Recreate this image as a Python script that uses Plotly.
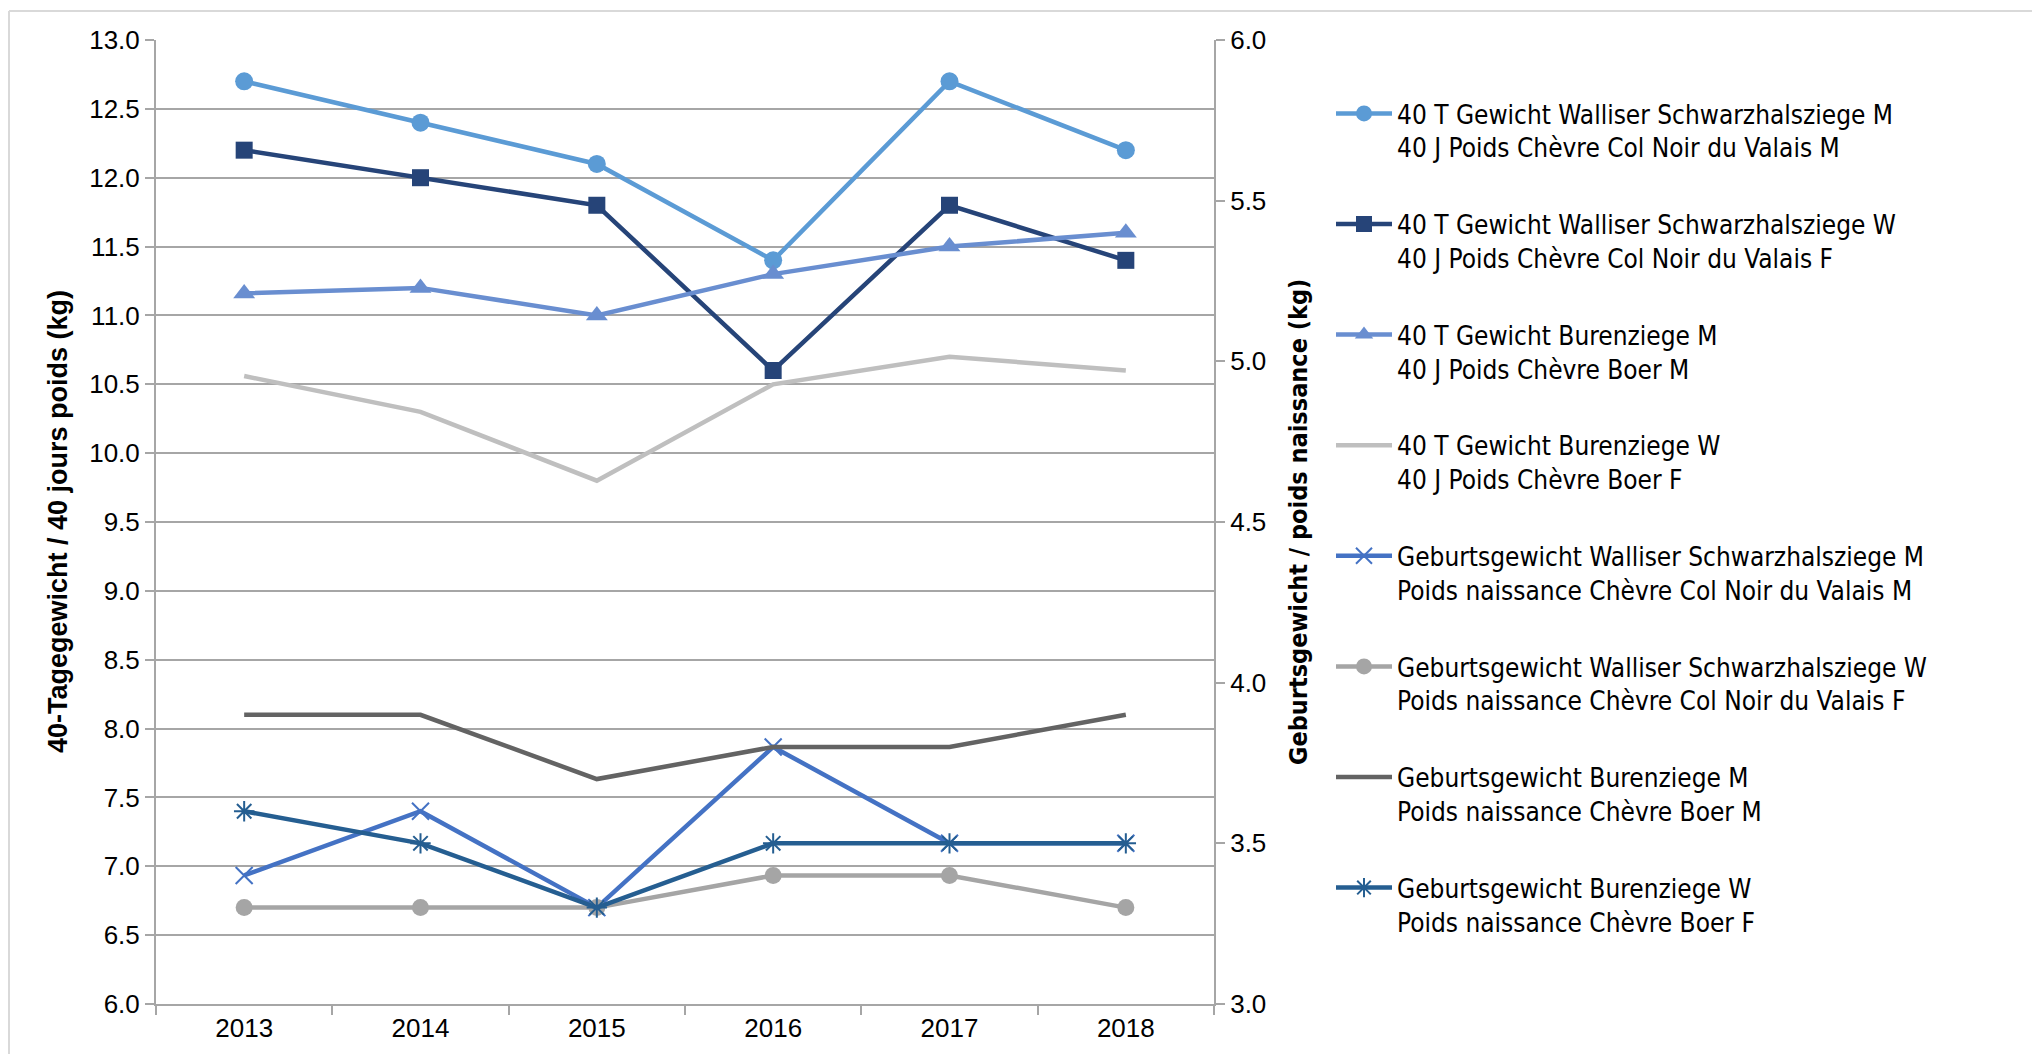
import plotly.graph_objects as go

years = ["2013", "2014", "2015", "2016", "2017", "2018"]

# 40-day weights (left axis, kg)
t40_walliser_m = [12.7, 12.4, 12.1, 11.4, 12.7, 12.2]
t40_walliser_w = [12.2, 12.0, 11.8, 10.6, 11.8, 11.4]
t40_buren_m = [11.16, 11.2, 11.0, 11.3, 11.5, 11.6]
t40_buren_w = [10.56, 10.3, 9.8, 10.5, 10.7, 10.6]

# birth weights (right axis, kg)
geb_walliser_m = [3.4, 3.6, 3.3, 3.8, 3.5, 3.5]
geb_walliser_w = [3.3, 3.3, 3.3, 3.4, 3.4, 3.3]
geb_buren_m = [3.9, 3.9, 3.7, 3.8, 3.8, 3.9]
geb_buren_w = [3.6, 3.5, 3.3, 3.5, 3.5, 3.5]

names = [
    "40 T Gewicht Walliser Schwarzhalsziege M<br>40 J Poids Chèvre Col Noir du Valais M",
    "40 T Gewicht Walliser Schwarzhalsziege W<br>40 J Poids Chèvre Col Noir du Valais F",
    "40 T Gewicht Burenziege M<br>40 J Poids Chèvre Boer M",
    "40 T Gewicht Burenziege W<br>40 J Poids Chèvre Boer F",
    "Geburtsgewicht Walliser Schwarzhalsziege M<br>Poids naissance Chèvre Col Noir du Valais M",
    "Geburtsgewicht Walliser Schwarzhalsziege W<br>Poids naissance Chèvre Col Noir du Valais F",
    "Geburtsgewicht Burenziege M<br>Poids naissance Chèvre Boer M",
    "Geburtsgewicht Burenziege W<br>Poids naissance Chèvre Boer F",
]

series = [t40_walliser_m, t40_walliser_w, t40_buren_m, t40_buren_w,
          geb_walliser_m, geb_walliser_w, geb_buren_m, geb_buren_w]
axes = ["y", "y", "y", "y", "y2", "y2", "y2", "y2"]
colors = ["#5B9BD5", "#264478", "#698ED0", "#BFBFBF",
          "#4472C4", "#A5A5A5", "#636363", "#255E91"]
symbols = ["circle", "square", "triangle-up", None,
           "x-thin-open", "circle", None, "asterisk-open"]
sizes = [18, 17, 19, 0, 17, 17, 0, 17]

# page offset (body margin of the html page)
OFF = 8
W, H = 2040 - 2 * OFF, 1062 - 2 * OFF
# plot area in page pixels
PX0, PX1, PY0, PY1 = 156, 1214, 40, 1004
L, T = PX0 - OFF, PY0 - OFF
R, B = W - (PX1 - OFF), H - (PY1 - OFF)
pw, ph = PX1 - PX0, PY1 - PY0


def px(x):
    return (x - PX0) / pw


def py(y):
    return (PY1 - y) / ph


fig = go.Figure()
for i, (vals, ax, col, sym, sz, nm) in enumerate(zip(series, axes, colors, symbols, sizes, names)):
    if sym is None:
        mode = "lines"
        marker = None
    else:
        mode = "lines+markers"
        if "open" in sym:
            marker = dict(symbol=sym, size=sz, color=col, line=dict(color=col, width=2))
        else:
            marker = dict(symbol=sym, size=sz, color=col, line=dict(width=0))
    fig.add_trace(go.Scatter(
        x=years, y=vals, name=nm, yaxis=ax, mode=mode,
        line=dict(color=col, width=4.5),
        marker=marker, legendgroup="g%d" % i,
    ))

grid_col = "#A6A6A6"
tick_font = dict(family="Liberation Sans, Arial, sans-serif", size=26, color="#000000")
narrow = "Liberation Sans Narrow, Arial Narrow, DejaVu Sans Condensed, sans-serif"

fig.update_layout(
    width=W, height=H,
    margin=dict(l=L, r=R, t=T, b=B),
    paper_bgcolor="white", plot_bgcolor="white",
    showlegend=True,
    legend=dict(
        x=px(1331), y=py(90), xanchor="left", yanchor="top",
        font=dict(family=narrow, size=26, color="#000000"),
        valign="top", tracegroupgap=40, itemwidth=56,
        bgcolor="rgba(0,0,0,0)", traceorder="grouped",
    ),
    xaxis=dict(
        type="category", range=[-0.5, 5.5], tickson="boundaries",
        ticks="outside", ticklen=9, tickwidth=2, tickcolor=grid_col,
        showline=True, linecolor=grid_col, linewidth=2,
        showgrid=False, tickfont=tick_font, zeroline=False,
    ),
    yaxis=dict(
        range=[6, 13], dtick=0.5, tick0=6, tickformat=".1f",
        ticks="outside", ticklen=9, tickwidth=2, tickcolor=grid_col,
        showline=True, linecolor=grid_col, linewidth=2,
        showgrid=True, gridcolor=grid_col, gridwidth=2,
        tickfont=tick_font, zeroline=False,
    ),
    yaxis2=dict(
        range=[3, 6], dtick=0.5, tick0=3, tickformat=".1f",
        overlaying="y", side="right",
        ticks="outside", ticklen=9, tickwidth=2, tickcolor=grid_col,
        showline=True, linecolor=grid_col, linewidth=2,
        showgrid=False, tickfont=tick_font, zeroline=False,
    ),
    annotations=[
        dict(text="<b>40-Tagegewicht / 40 jours poids (kg)</b>", xref="paper", yref="paper",
             x=px(58), y=py(522), textangle=-90, showarrow=False,
             font=dict(family="Liberation Sans, Arial, sans-serif", size=27, color="#000000"),
             xanchor="center", yanchor="middle"),
        dict(text="<b>Geburtsgewicht / poids naissance (kg)</b>", xref="paper", yref="paper",
             x=px(1298), y=py(522), textangle=-90, showarrow=False,
             font=dict(family=narrow, size=25, color="#000000"),
             xanchor="center", yanchor="middle"),
    ],
    shapes=[
        dict(type="line", xref="paper", yref="paper", x0=px(9), x1=px(2045), y0=py(11), y1=py(11),
             line=dict(color="#D9D9D9", width=2)),
        dict(type="line", xref="paper", yref="paper", x0=px(9), x1=px(9), y0=py(11), y1=py(1070),
             line=dict(color="#D9D9D9", width=2)),
    ],
)

fig.write_html("out.html")
